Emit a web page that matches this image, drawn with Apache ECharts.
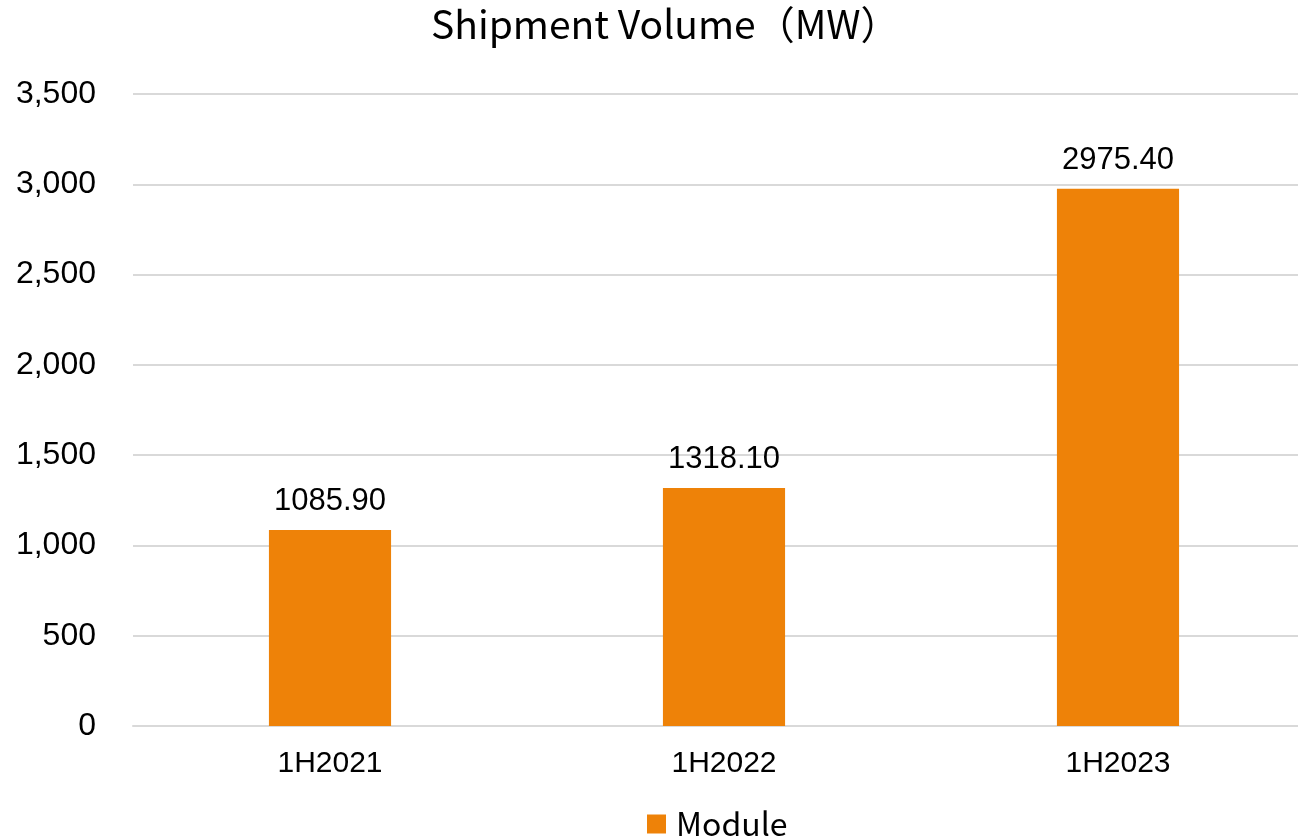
<!DOCTYPE html>
<html>
<head>
<meta charset="utf-8">
<script src="https://cdn.jsdelivr.net/npm/echarts@6/dist/echarts.min.js"></script>
<style>
  html, body { margin: 0; padding: 0; background: #fff; }
  #chart { width: 1298px; height: 839px; }
</style>
</head>
<body>
<div id="chart"></div>
<script>
var categories = ["1H2021", "1H2022", "1H2023"];
var moduleValues = [1085.9, 1318.1, 2975.4];
var yTicks = { min: 0, max: 3500, interval: 500 };

var chart = echarts.init(document.getElementById("chart"));

var option = {
  backgroundColor: "#fff",
  animation: false,
  title: {
    text: "Shipment Volume（MW）",
    left: 426,
    top: 0,
    textStyle: {
      fontFamily: "Noto Sans CJK SC",
      fontSize: 39,
      fontWeight: "normal",
      color: "#000"
    }
  },
  legend: {
    data: ["Module"],
    top: 803,
    left: 642,
    itemWidth: 19,
    itemHeight: 19,
    icon: "rect",
    textStyle: {
      fontFamily: "Noto Sans CJK SC",
      fontSize: 32,
      color: "#000",
      padding: [0, 0, 0, 5]
    }
  },
  grid: {
    left: 133,
    width: 1182,
    top: 94,
    bottom: 113,
    containLabel: false,
    outerBoundsMode: "none"
  },
  xAxis: {
    type: "category",
    data: categories,
    axisTick: { show: false },
    axisLine: { lineStyle: { color: "#d9d9d9", width: 2 } },
    axisLabel: {
      margin: 23,
      fontFamily: "Liberation Sans",
      fontSize: 30,
      color: "#000"
    }
  },
  yAxis: {
    type: "value",
    min: yTicks.min,
    max: yTicks.max,
    interval: yTicks.interval,
    axisLine: { show: false },
    axisTick: { show: false },
    splitLine: { lineStyle: { color: "#d9d9d9", width: 2 } },
    axisLabel: {
      margin: 37,
      fontFamily: "Liberation Sans",
      fontSize: 32,
      color: "#000",
      formatter: function (v) {
        return v.toLocaleString("en-US");
      }
    }
  },
  series: [
    {
      name: "Module",
      type: "bar",
      data: moduleValues,
      barWidth: "31%",
      itemStyle: { color: "#ee8208" },
      label: {
        show: true,
        position: "top",
        distance: 13,
        fontFamily: "Liberation Sans",
        fontSize: 31,
        color: "#000",
        formatter: function (p) {
          return p.value.toFixed(2);
        }
      }
    }
  ]
};

chart.setOption(option);
</script>
</body>
</html>
